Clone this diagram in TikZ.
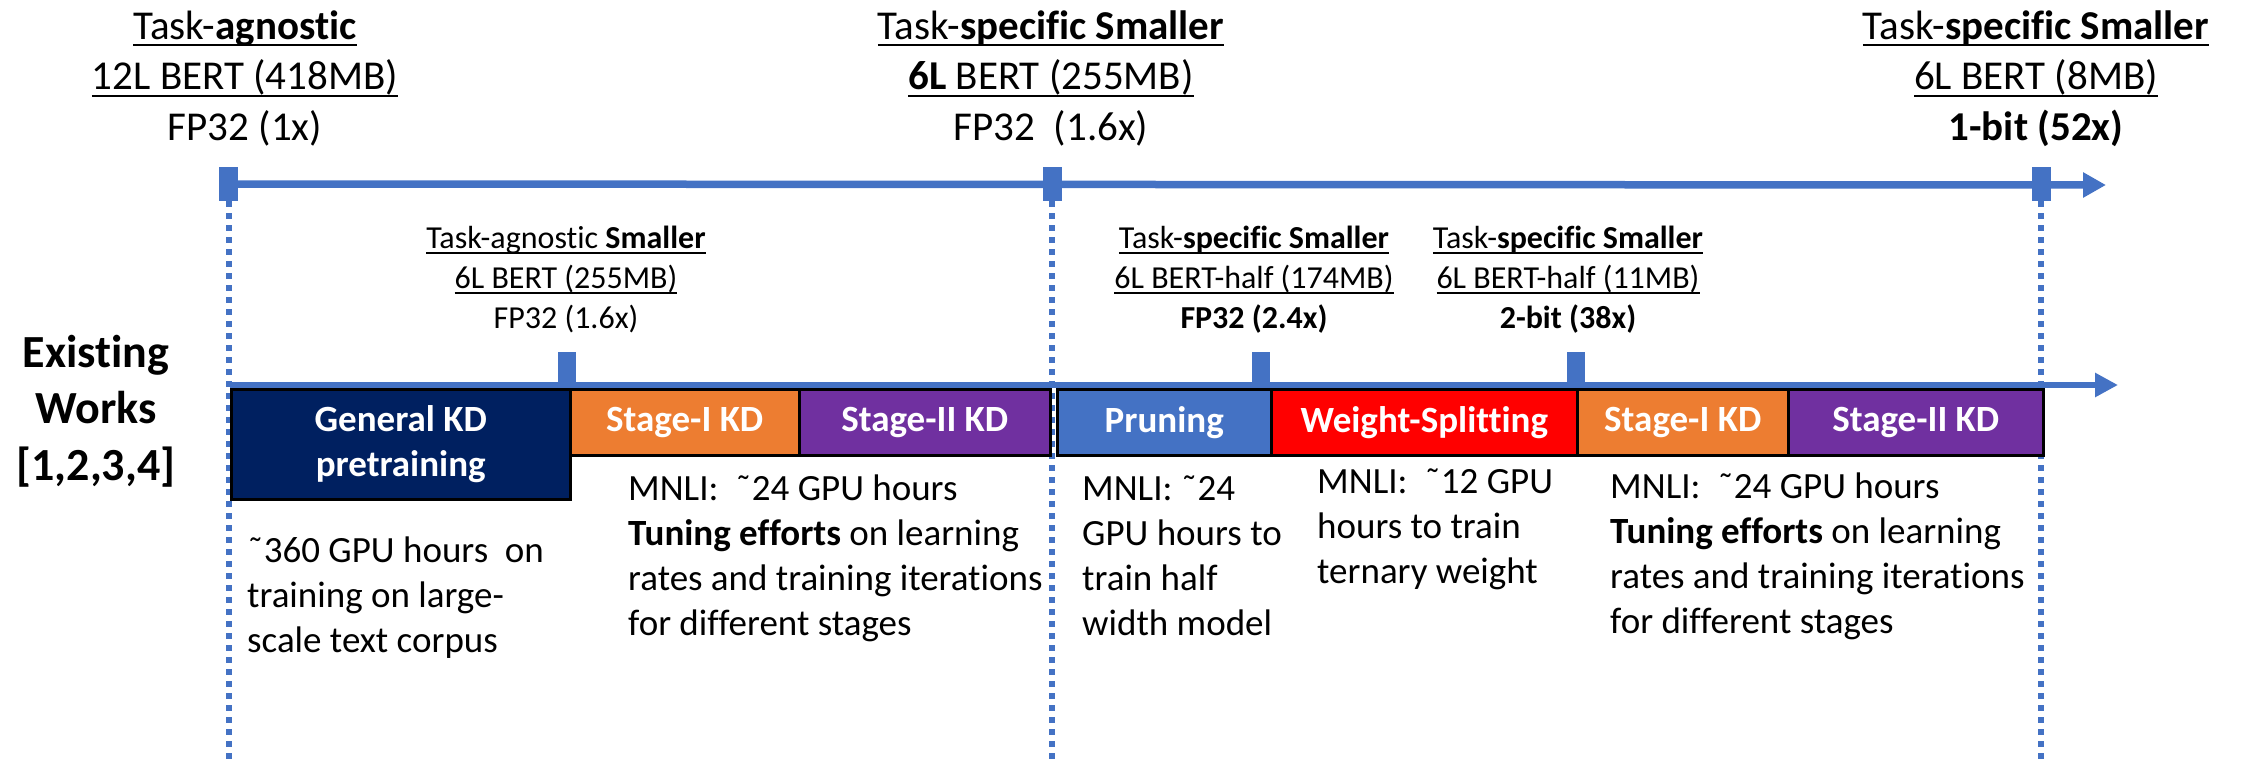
\documentclass[tikz,border=0pt]{standalone}
\usepackage{fontspec}
\setmainfont{Carlito}[Ligatures=NoCommon]
\usetikzlibrary{arrows.meta}
\newsavebox\ulbox
\newlength\uldepth
\newcommand\ulin[1]{\sbox\ulbox{#1}\rlap{\rule[-\uldepth]{\wd\ulbox}{2pt}}\usebox\ulbox}
\newcommand\linesof[2]{\begin{tabular}[t]{@{}#1@{}}#2\end{tabular}}
\definecolor{axisblue}{HTML}{4472C4}
\definecolor{kdnavy}{HTML}{002060}
\definecolor{kdorange}{HTML}{ED7D31}
\definecolor{kdpurple}{HTML}{7030A0}
\definecolor{splitred}{HTML}{FF0000}
\begin{document}
\begin{tikzpicture}[x=1pt,y=-1pt,
  axisline/.style={draw=axisblue,line width=7.5pt,-{Triangle[length=23pt,width=24pt]}},
  lowline/.style={draw=axisblue,line width=6.5pt,-{Triangle[length=23pt,width=23pt]}},
  guide/.style={draw=axisblue,line width=6pt,dash pattern=on 6pt off 6pt},
  tickbar/.style={fill=axisblue,inner sep=0pt,minimum width=19pt,minimum height=34pt},
  smalltick/.style={fill=axisblue,inner sep=0pt,minimum width=18pt,minimum height=33pt},
  phase/.style={draw=black,line width=2.5pt,text=white,inner sep=0pt,anchor=north west,
    align=center,minimum height=66pt,font=\bfseries\fontsize{37}{45}\selectfont},
  biglabel/.style={anchor=base,inner sep=0pt,font=\fontsize{41}{50.5}\selectfont\setlength\uldepth{7pt}},
  midlabel/.style={anchor=base,inner sep=0pt,font=\fontsize{32}{40}\selectfont\setlength\uldepth{5.5pt}},
  note/.style={anchor=base west,inner sep=0pt,font=\fontsize{37}{45}\selectfont},
  rowlabel/.style={anchor=base,inner sep=0pt,font=\bfseries\fontsize{46}{56.5}\selectfont}]
\useasboundingbox (0,0) rectangle (2244,764);

% milestone markers on the upper axis
\node[tickbar] (tA) at (228.5,184) {};
\node[tickbar] (tB) at (1052,184) {};
\node[tickbar] (tC) at (2041,184) {};
\coordinate (bottom) at (0,764);
\coordinate (topend) at (2106,185);
\coordinate (lowstart) at (230,385);
\coordinate (lowend) at (2118,385);

% dotted guides down from each milestone
\draw[guide] (tA.south) -- (tA.south |- bottom);
\draw[guide] (tB.south) -- (tB.south |- bottom);
\draw[guide] (tC.south) -- (tC.south |- bottom);

% the two time axes
\draw[axisline] (tA.center) -- (topend);
\draw[lowline] (lowstart) -- (lowend);

% pipeline stages
\node[phase,fill=kdnavy,minimum width=339pt,minimum height=110pt] (gkd) at (230,388) {General KD\\pretraining};
\node[phase,fill=kdorange,minimum width=229pt] (s1a) at (569,388) {Stage-I KD};
\node[phase,fill=kdpurple,minimum width=251pt] (s2a) at (798,388) {Stage-II KD};
\node[phase,fill=axisblue,minimum width=214pt] (prune) at (1056,388) {Pruning};
\node[phase,fill=splitred,minimum width=306pt] (split) at (1270,388) {Weight-Splitting};
\node[phase,fill=kdorange,minimum width=211pt] (s1b) at (1576,388) {Stage-I KD};
\node[phase,fill=kdpurple,minimum width=255pt] (s2b) at (1787,388) {Stage-II KD};

% intermediate checkpoints on the lower axis
\node[smalltick] (mA) at (567,368.5) {};
\node[smalltick] (mB) at (1261,368.5) {};
\node[smalltick] (mC) at (1576,368.5) {};

% model labels above the upper axis
\node[biglabel] (labA) at (245,39) {\linesof{c}{\ulin{Task-\textbf{agnostic}}\\\ulin{12L BERT (418MB)}\\FP32 (1x)}};
\node[biglabel] (labB) at (1051,39) {\linesof{c}{\ulin{Task-\textbf{specific Smaller}}\\\ulin{\textbf{6L} BERT (255MB)}\\FP32\ \ (1.6x)}};
\node[biglabel] (labC) at (2036,39) {\linesof{c}{\ulin{Task-\textbf{specific Smaller}}\\\ulin{6L BERT (8MB)}\\\textbf{1-bit (52x)}}};

% model labels above the lower axis
\node[midlabel] (labM1) at (566,248) {\linesof{c}{\ulin{Task-agnostic \textbf{Smaller}}\\\ulin{6L BERT (255MB)}\\FP32 (1.6x)}};
\node[midlabel] (labM2) at (1254,248) {\linesof{c}{\ulin{Task-\textbf{specific Smaller}}\\\ulin{6L BERT-half (174MB)}\\\textbf{FP32 (2.4x)}}};
\node[midlabel] (labM3) at (1568,248) {\linesof{c}{\ulin{Task-\textbf{specific Smaller}}\\\ulin{6L BERT-half (11MB)}\\\textbf{2-bit (38x)}}};

% row title
\node[rowlabel] (row) at (96,367) {\linesof{c}{Existing\\Works\\{[1,2,3,4]}}};

% cost notes under the stages
\node[note] (nA) at (247,562) {\linesof{l}{˜360 GPU hours\ \ on\\training on large-\\scale text corpus}};
\node[note] (nB) at (628,500) {\linesof{l}{MNLI:\ \ ˜24 GPU hours\\\textbf{Tuning efforts} on learning\\rates and training iterations\\for different stages}};
\node[note] (nC) at (1082,500) {\linesof{l}{MNLI: ˜24\\GPU hours to\\train half\\width model}};
\node[note] (nD) at (1317,493) {\linesof{l}{MNLI:\ \ ˜12 GPU\\hours to train\\ternary weight}};
\node[note] (nE) at (1610,498) {\linesof{l}{MNLI:\ \ ˜24 GPU hours\\\textbf{Tuning efforts} on learning\\rates and training iterations\\for different stages}};
\end{tikzpicture}
\end{document}
